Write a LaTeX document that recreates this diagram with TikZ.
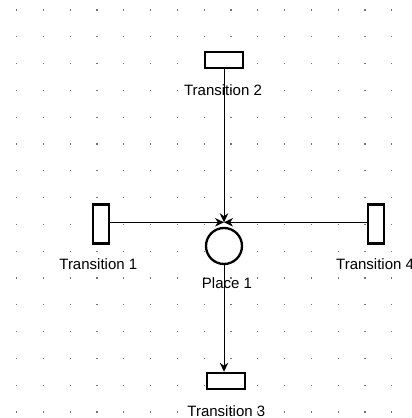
\documentclass[tikz,border=0pt]{standalone}
\usepackage{fontspec}
\setmainfont{Liberation Sans}
\usetikzlibrary{arrows.meta}
\begin{document}
\begin{tikzpicture}[x=1pt,y=-1pt,
  trans/.style={draw=black,line width=2.5pt,fill=white,inner sep=0pt},
  htrans/.style={trans,minimum width=37.6pt,minimum height=16pt},
  vtrans/.style={trans,minimum width=16pt,minimum height=39pt},
  place/.style={draw=black,line width=2.3pt,fill=white,circle,inner sep=0pt,minimum size=36pt},
  arc/.style={draw=black,line width=0.9pt,-{Stealth[length=9pt,width=8.5pt]}},
  lbl/.style={inner sep=0pt,font=\fontsize{15}{17}\selectfont},
  griddot/.style={fill=black!55}]
  \useasboundingbox (0,0) rectangle (412,418);
  \fill[white] (0,0) rectangle (412,418);
  % background dot grid
  \foreach \i in {0,...,14}{
    \foreach \j in {0,...,15}{
      \fill[griddot] ({16.6+26.8*\i-0.6},{10+26.8*\j-0.6}) rectangle +(1.2,1.2);
    }
  }
  % transitions and place
  \node[htrans] (t2) at (224,60) {};
  \node[vtrans] (t1) at (101,224) {};
  \node[vtrans] (t4) at (376,224) {};
  \node[htrans] (t3) at (226,381) {};
  \node[place]  (p1) at (224,246) {};
  \coordinate (ptop) at (224,222.3);
  % arcs
  \draw[arc] (t2.south) -- (ptop);
  \draw[arc] (t1.east |- ptop) -- (ptop);
  \draw[arc] (t4.west |- ptop) -- (ptop);
  \draw[arc] (p1.south) -- (p1.south |- t3.north);
  % labels
  \node[lbl,anchor=base] (l2) at (223,95.5) {Transition 2};
  \node[lbl,anchor=base] (l1) at (98.3,269) {Transition 1};
  \node[lbl,anchor=base west] (l4) at (336,269) {Transition 4};
  \node[lbl,anchor=base] (lp) at (227,288.5) {Place 1};
  \node[lbl,anchor=base] (l3) at (226.3,416) {Transition 3};
\end{tikzpicture}
\end{document}
